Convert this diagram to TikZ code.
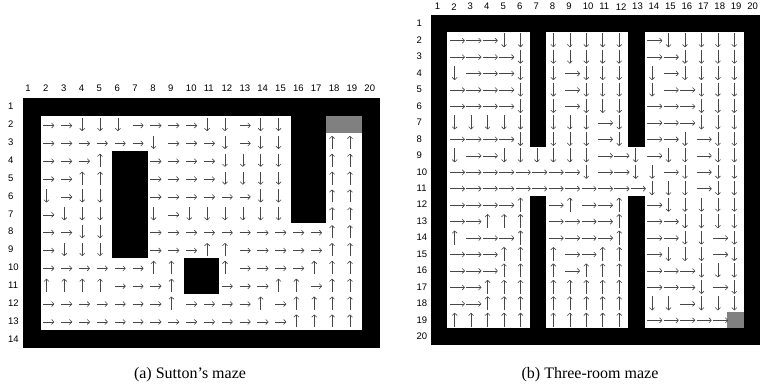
\documentclass[tikz,border=0pt]{standalone}
\usepackage{fontspec}
\setmainfont{Liberation Serif}
\setsansfont{Liberation Sans}
\usetikzlibrary{arrows.meta}
\tikzset{
  pol/.style={draw=black!72, line width=0.6pt, -{Computer Modern Rightarrow[length=3pt,width=5.5pt]}},
  wallfill/.style={fill=black},
  goalfill/.style={fill=black!50},
  roomfill/.style={fill=white},
  lbl/.style={font=\sffamily\fontsize{9.5}{11}\selectfont, inner sep=0pt, anchor=west},
  captext/.style={font=\fontsize{16}{19}\selectfont, inner sep=0pt, anchor=base},
}
\newcommand\mzcell[5]{\fill[#1] ({\mzX+(#2-1)*\mzS},{\mzY+(#3-1)*\mzS}) rectangle ({\mzX+(#4)*\mzS},{\mzY+(#5)*\mzS});}
\newcommand\mzaR[2]{\draw[pol] ({\mzX+(#1-0.5)*\mzS+\mzHA},{\mzY+(#2-0.5)*\mzS+\mzHY}) -- ++(\mzHL,0);}
\newcommand\mzaD[2]{\draw[pol] ({\mzX+(#1-0.5)*\mzS+\mzVX},{\mzY+(#2-0.5)*\mzS-\mzVH}) -- ++(0,{2*\mzVH});}
\newcommand\mzaU[2]{\draw[pol] ({\mzX+(#1-0.5)*\mzS+\mzVX},{\mzY+(#2-0.5)*\mzS+\mzVH}) -- ++(0,{-2*\mzVH});}
\newcommand\mzaN[2]{}
\newcommand\mzrow[2]{\foreach \mzt [count=\mzc from 2] in {#2}{\csname mza\mzt\endcsname{\mzc}{#1}}}
\begin{document}
\begin{tikzpicture}[x=1pt,y=-1pt]
\useasboundingbox (0,0) rectangle (760,390);
% ---------------- (a) Sutton's maze ----------------
\def\mzX{23}\def\mzY{97.8}\def\mzS{17.85}
\def\mzHA{-6.5}\def\mzHL{11}\def\mzHY{1}\def\mzVX{-3.3}\def\mzVH{6.5}
\mzcell{wallfill}{1}{1}{20}{14}
\mzcell{roomfill}{2}{2}{19}{13}
\mzcell{wallfill}{16}{2}{17}{7}
\mzcell{wallfill}{6}{4}{7}{9}
\mzcell{wallfill}{10}{10}{11}{11}
\mzcell{goalfill}{18}{2}{19}{2}
\mzrow{2}{R,R,D,D,D,R,R,R,R,D,D,R,D,D,N,N,N,N}
\mzrow{3}{R,R,R,R,R,R,D,R,R,R,D,R,D,D,N,N,U,U}
\mzrow{4}{R,R,R,U,N,N,R,R,R,R,D,D,D,D,N,N,U,U}
\mzrow{5}{R,R,U,U,N,N,R,R,R,R,D,D,D,D,N,N,U,U}
\mzrow{6}{D,R,D,D,N,N,R,R,R,R,R,R,D,D,N,N,U,U}
\mzrow{7}{R,D,D,D,N,N,D,R,D,D,D,D,D,D,N,N,U,U}
\mzrow{8}{R,R,D,D,N,N,R,R,R,R,R,R,R,R,R,R,U,U}
\mzrow{9}{R,D,D,D,N,N,R,R,R,U,U,R,R,R,R,R,U,U}
\mzrow{10}{R,R,R,R,R,R,U,U,N,N,U,R,R,R,R,U,U,U}
\mzrow{11}{U,U,U,U,R,R,R,U,N,N,R,R,R,U,U,R,U,U}
\mzrow{12}{R,R,R,R,R,R,R,U,R,R,R,R,U,R,U,U,U,U}
\mzrow{13}{R,R,R,R,R,R,R,R,R,R,R,R,R,R,U,U,U,U}
\foreach \i in {1,...,20} \node[lbl] (lac\i) at ({\mzX+(\i-0.5)*\mzS-6.8},88) {\i};
\foreach \i in {1,...,14} \node[lbl] (lar\i) at (8,{\mzY+(\i-0.5)*\mzS}) {\i};
\node[captext] (capa) at (190,378) {(a) Sutton's maze};
% ---------------- (b) Three-room maze ----------------
\def\mzX{431}\def\mzY{15.5}\def\mzS{16.45}
\def\mzHA{-5.75}\def\mzHL{15}\def\mzHY{0.5}\def\mzVX{-1}\def\mzVH{7}
\mzcell{wallfill}{1}{1}{20}{20}
\mzcell{roomfill}{2}{2}{19}{19}
\mzcell{wallfill}{7}{1}{7}{8}
\mzcell{wallfill}{7}{12}{7}{20}
\mzcell{wallfill}{13}{1}{13}{8}
\mzcell{wallfill}{13}{12}{13}{20}
\mzcell{goalfill}{19}{19}{19}{19}
\mzrow{2}{R,R,R,D,D,N,D,D,D,D,D,N,R,D,D,D,D,D}
\mzrow{3}{R,R,R,R,D,N,D,D,D,D,D,N,R,R,D,D,D,D}
\mzrow{4}{D,R,R,R,D,N,D,R,D,D,D,N,D,R,D,D,D,D}
\mzrow{5}{R,R,R,R,D,N,D,R,D,D,D,N,D,R,R,D,D,D}
\mzrow{6}{R,R,R,R,D,N,D,R,D,D,D,N,R,R,R,D,D,D}
\mzrow{7}{D,D,D,D,D,N,D,D,D,R,D,N,R,R,R,D,D,D}
\mzrow{8}{R,R,R,R,D,N,D,D,D,R,D,N,R,R,D,R,D,D}
\mzrow{9}{D,R,R,D,D,D,D,D,D,R,R,D,R,D,D,R,D,D}
\mzrow{10}{R,R,R,R,R,R,R,R,D,R,R,D,D,R,D,R,D,D}
\mzrow{11}{R,R,R,R,R,R,R,R,R,R,R,R,D,D,D,R,D,D}
\mzrow{12}{R,R,R,R,U,N,R,U,R,R,U,N,R,D,D,D,D,D}
\mzrow{13}{R,R,U,U,U,N,R,R,R,R,U,N,R,R,D,D,D,D}
\mzrow{14}{U,R,R,R,U,N,R,R,R,R,U,N,R,R,D,D,R,D}
\mzrow{15}{R,R,R,U,U,N,U,R,R,U,U,N,R,D,D,D,R,D}
\mzrow{16}{R,R,R,U,U,N,U,R,U,U,U,N,R,R,R,D,D,D}
\mzrow{17}{R,R,U,U,U,N,U,U,U,U,U,N,R,R,R,D,R,D}
\mzrow{18}{R,R,U,U,U,N,U,U,U,U,U,N,D,D,R,D,D,D}
\mzrow{19}{U,U,U,U,U,N,U,U,U,U,U,N,R,R,R,R,R,N}
\foreach \i in {1,...,20} \node[lbl] (lbc\i) at ({\mzX+(\i-0.5)*\mzS-4.6},6.7) {\i};
\foreach \i in {1,...,20} \node[lbl] (lbr\i) at (416.5,{\mzY+(\i-0.5)*\mzS}) {\i};
\node[captext] (capb) at (590,378) {(b) Three-room maze};
\end{tikzpicture}
\end{document}
